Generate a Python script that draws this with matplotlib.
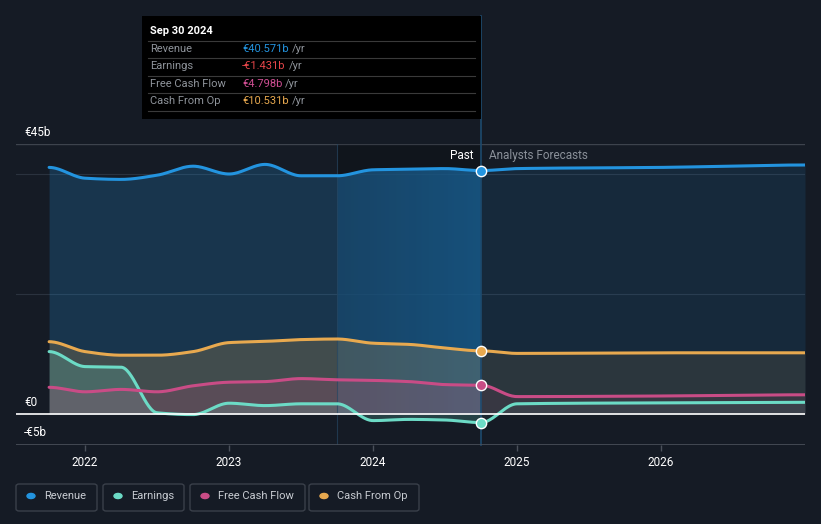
import numpy as np
import matplotlib
matplotlib.use("Agg")
import matplotlib.pyplot as plt
from matplotlib.colors import LinearSegmentedColormap
from matplotlib.patches import FancyBboxPatch, Rectangle

plt.rcParams['font.family'] = ['Roboto', 'DejaVu Sans']

# quarterly history, Sep 2021 .. Sep 2024 (EUR bn)
past_x = [2021.75, 2022.0, 2022.25, 2022.5, 2022.75, 2023.0, 2023.25,
          2023.5, 2023.75, 2024.0, 2024.25, 2024.5, 2024.75]
revenue_past = [41.1, 39.3, 39.1, 39.8, 41.3, 40.0, 41.6, 39.7, 39.7, 40.7, 40.8, 40.9, 40.571]
earnings_past = [10.4, 7.9, 7.8, 0.2, -0.1, 1.8, 1.4, 1.7, 1.7, -1.1, -0.9, -1.0, -1.431]
fcf_past = [4.45, 3.7, 4.1, 3.7, 4.7, 5.3, 5.4, 5.9, 5.7, 5.6, 5.4, 4.9, 4.798]
cfo_past = [12.05, 10.4, 9.8, 9.8, 10.4, 11.9, 12.1, 12.4, 12.5, 11.8, 11.6, 11.0, 10.531]

# analyst forecasts
fc_x = [2024.75, 2025.0, 2026.0, 2027.0]
revenue_fc = [40.571, 40.9, 41.1, 41.5]
earnings_fc = [-1.431, 1.7, 1.85, 1.95]
fcf_fc = [4.798, 2.9, 3.0, 3.2]
cfo_fc = [10.531, 10.1, 10.2, 10.2]

year_ticks = [2022, 2023, 2024, 2025, 2026]

BG = '#151b25'
C_REV = '#2394df'
C_EARN = '#6cdbc6'
C_FCF = '#c94c86'
C_CFO = '#e8a94f'
W, H = 821, 524


def pchip(x, y, xs):
    # monotone cubic, only used to draw smooth curves through the read points
    x = np.asarray(x, float)
    y = np.asarray(y, float)
    h = np.diff(x)
    d = np.diff(y) / h
    m = np.zeros_like(y)
    for i in range(1, len(y) - 1):
        if d[i - 1] * d[i] > 0:
            w1 = 2 * h[i] + h[i - 1]
            w2 = h[i] + 2 * h[i - 1]
            m[i] = (w1 + w2) / (w1 / d[i - 1] + w2 / d[i])
    idx = np.clip(np.searchsorted(x, xs) - 1, 0, len(x) - 2)
    t = (xs - x[idx]) / h[idx]
    h00 = 2 * t**3 - 3 * t**2 + 1
    h10 = t**3 - 2 * t**2 + t
    h01 = -2 * t**3 + 3 * t**2
    h11 = t**3 - t**2
    return h00 * y[idx] + h10 * h[idx] * m[idx] + h01 * y[idx + 1] + h11 * h[idx] * m[idx + 1]


fig = plt.figure(figsize=(8.21, 5.24), dpi=100, facecolor=BG)
ax = fig.add_axes([16 / W, 79 / H, 789 / W, 301 / H])
ax.set_facecolor(BG)
ymin = -31 / 6
ax.set_xlim(2021.52, 2027.0)
ax.set_ylim(ymin, 45)
for s in ax.spines.values():
    s.set_visible(False)

# grid
ax.axhline(45, color='#3d434d', lw=1, zorder=1)
for g in (40, 20):
    ax.axhline(g, color='#2a323e', lw=0.8, zorder=1)

xp = np.linspace(past_x[0], past_x[-1], 400)
xf = np.linspace(fc_x[0], fc_x[-1], 200)
rev_p = pchip(past_x, revenue_past, xp)

# highlighted last year: darker above revenue, brighter blue gradient below
hl = (xp >= 2023.75)
ax.fill_between(xp[hl], rev_p[hl], 45, color='black', alpha=0.22, lw=0, zorder=1.5)
grad = np.linspace(0, 1, 100).reshape(1, -1)
cmap = LinearSegmentedColormap.from_list('hl', ['#15344f', '#134a73'])
im = ax.imshow(grad, extent=[2023.75, 2024.75, 0, 45], aspect='auto', cmap=cmap,
               alpha=0.75, zorder=1.9, interpolation='bilinear')
clip = ax.fill_between(xp[hl], 0, rev_p[hl], color='none', lw=0)
im.set_clip_path(clip.get_paths()[0], transform=ax.transData)
ax.axvline(2023.75, color='#264560', lw=0.8, alpha=0.7, zorder=2.2)

series = [
    (revenue_past, revenue_fc, C_REV, 0.22, 0.12),
    (cfo_past, cfo_fc, C_CFO, 0.20, 0.10),
    (earnings_past, earnings_fc, C_EARN, 0.20, 0.06),
    (fcf_past, fcf_fc, C_FCF, 0.18, 0.08),
]
for yp, yf, col, a_p, a_f in series:
    sp = pchip(past_x, yp, xp)
    sf = pchip(fc_x, yf, xf)
    ax.fill_between(xp, 0, sp, color=col, alpha=a_p, lw=0, zorder=2)
    ax.fill_between(xf, 0, sf, color=col, alpha=a_f, lw=0, zorder=2)
    ax.plot(xp, sp, color=col, lw=2.2, zorder=4, solid_capstyle='round')
    ax.plot(xf, sf, color=col, lw=2.2, zorder=4, solid_capstyle='round')
    ax.scatter([past_x[-1]], [yp[-1]], s=55, color=col, edgecolor='white',
               linewidth=1.0, zorder=6)

ax.axhline(0, color='white', lw=1.2, zorder=5)
ax.axhline(ymin, color='#4a505a', lw=1.2, zorder=5)

# "now" line running up into the tooltip
ax.plot([2024.75, 2024.75], [ymin, 45 + 128 / 6], color='#1d4a6e',
        lw=1.2, clip_on=False, zorder=3)

ax.set_yticks([])
ax.set_xticks(year_ticks)
ax.set_xticklabels([str(y) for y in year_ticks])
ax.tick_params(axis='x', colors='#4a505a', length=4, width=1, pad=4,
               labelcolor='white', labelsize=8.5, direction='out')

fig.text(24 / W, 1 - 132 / H, '€45b', color='white', fontsize=8.5, va='center')
fig.text(24 / W, 1 - 402 / H, '€0', color='white', fontsize=8.5, va='center')
fig.text(24 / W, 1 - 432 / H, '-€5b', color='white', fontsize=8.5, va='center')

fig.text(473 / W, 1 - 156 / H, 'Past', color='white', fontsize=8.5, ha='right', va='center')
fig.text(489 / W, 1 - 156 / H, 'Analysts Forecasts', color='#8a9099', fontsize=8.5, ha='left', va='center')

# tooltip
fig.patches.append(Rectangle((142 / W, 1 - 119 / H), 339 / W, 103 / H, transform=fig.transFigure,
                             facecolor='black', edgecolor='none', zorder=10))
fig.text(150 / W, 1 - 31 / H, 'Sep 30 2024', color='white', fontsize=8, fontweight='bold',
         va='center', zorder=11)
rows = [('Revenue', '€40.571b', C_REV),
        ('Earnings', '-€1.431b', '#e8464a'),
        ('Free Cash Flow', '€4.798b', '#d04f94'),
        ('Cash From Op', '€10.531b', C_CFO)]
for y in [41, 58, 76, 93, 111]:
    fig.lines.append(plt.Line2D([148 / W, 475 / W], [1 - y / H] * 2, transform=fig.transFigure,
                                color='#3a3a3a', lw=0.8, zorder=11))
renderer = fig.canvas.get_renderer()
for (lab, val, col), y in zip(rows, [48.5, 66, 84, 101]):
    fig.text(150 / W, 1 - y / H, lab, color='#8f949b', fontsize=8, va='center', zorder=11)
    tv = fig.text(242 / W, 1 - y / H, val, color=col, fontsize=8, va='center', zorder=11)
    bb = tv.get_window_extent(renderer)
    fig.text(bb.x1 / W + 3 / W, 1 - y / H, '/yr', color='#8f949b', fontsize=8, va='center', zorder=11)

# legend
leg = [('Revenue', C_REV, 16, 97), ('Earnings', C_EARN, 103, 184),
       ('Free Cash Flow', C_FCF, 190, 305), ('Cash From Op', C_CFO, 309, 419)]
for lab, col, x0, x1 in leg:
    fig.patches.append(FancyBboxPatch((x0 / W, 1 - 511 / H), (x1 - x0) / W, 27 / H,
                                      boxstyle='round,pad=0,rounding_size=0.004',
                                      transform=fig.transFigure, facecolor='none',
                                      edgecolor='#3a404a', lw=1))
    fig.patches.append(plt.Circle(((x0 + 15) / W, 1 - 496 / H), 4 / W, transform=fig.transFigure,
                                  color=col))
    fig.text((x0 + 28) / W, 1 - 496 / H, lab, color='#c8ccd2', fontsize=8, va='center')

fig.savefig('out.png', dpi=100, facecolor=BG)
